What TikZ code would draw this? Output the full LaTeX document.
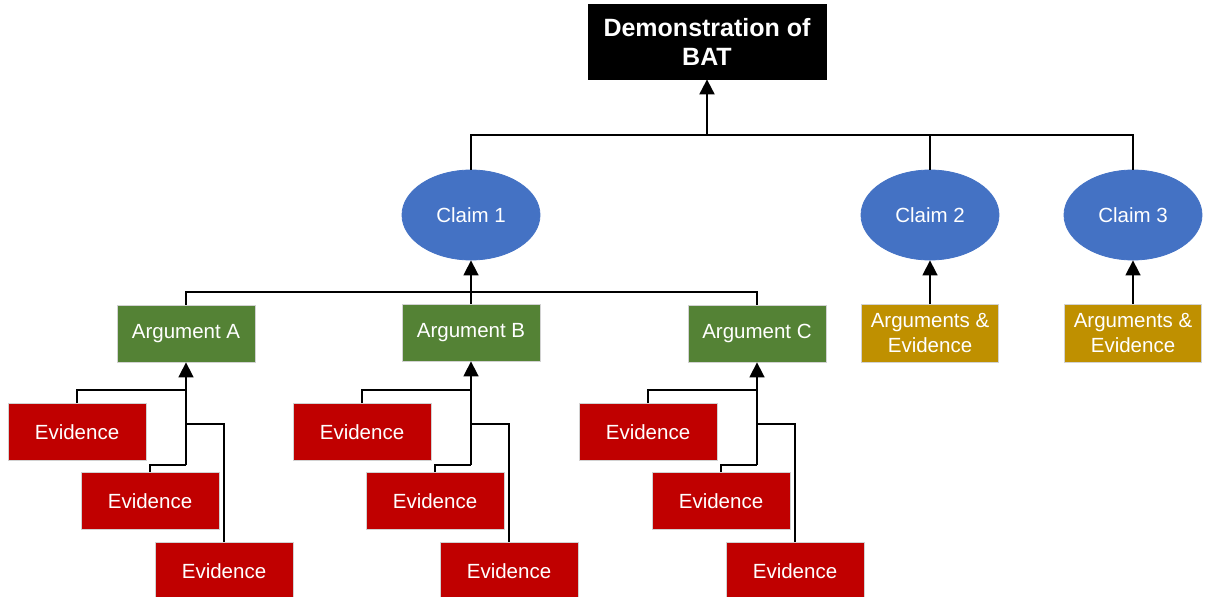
\documentclass[tikz,border=0pt]{standalone}
\usepackage{fontspec}
\setmainfont{Liberation Sans}
\usetikzlibrary{arrows.meta,shapes.geometric}
\definecolor{cblue}{HTML}{4472C4}
\definecolor{cgreen}{HTML}{548235}
\definecolor{cred}{HTML}{C00000}
\definecolor{cgold}{HTML}{BF9000}
\tikzset{
  base/.style={text=white, inner sep=0pt, align=center, draw=gray!35, line width=0.8pt,
    font=\fontsize{20.5}{24.5}\selectfont},
  titlebox/.style={base, fill=black, draw=black, minimum width=238pt, minimum height=75pt,
    font=\bfseries\fontsize{25}{29}\selectfont},
  claim/.style={base, ellipse, fill=cblue, draw=cblue, minimum width=138pt, minimum height=90pt},
  argbox/.style={base, fill=cgreen, minimum width=138pt, minimum height=57pt},
  evbox/.style={base, fill=cred, minimum width=138pt, minimum height=57pt},
  aebox/.style={base, fill=cgold, minimum width=137pt, minimum height=58pt},
  conn/.style={draw=black, line width=1.6pt},
  arr/.style={conn, -{Triangle[length=15pt,width=15pt]}},
}
\begin{document}
\begin{tikzpicture}[x=1pt,y=-1pt]
\useasboundingbox (0,0) rectangle (1205,597);
\clip (0,0) rectangle (1205,597);

\node[titlebox] (bat) at (707,41.5) {Demonstration of\\BAT};

\node[claim] (claim1) at (471,215) {Claim 1};
\node[claim] (claim2) at (930,215) {Claim 2};
\node[claim] (claim3) at (1133,215) {Claim 3};

\node[aebox] (ae2) at (930,333) {Arguments \&\\Evidence};
\node[aebox] (ae3) at (1133,333) {Arguments \&\\Evidence};

\node[argbox] (argA) at (186,333.5) {Argument A};
\node[argbox] (argB) at (471,332.5) {Argument B};
\node[argbox] (argC) at (757,333.5) {Argument C};

% top level
\coordinate (top) at (707,135);
\draw[conn] (claim1.north) -- (claim1.north |- top) -- (claim3.north |- top) -- (claim3.north);
\draw[conn] (claim2.north) -- (claim2.north |- top);
\draw[arr, line width=2pt] (top) -- (bat.south);

\draw[arr] (ae2.north) -- (claim2.south);
\draw[arr] (ae3.north) -- (claim3.south);

% claim 1 level
\coordinate (c1j) at (471,292);
\draw[conn] (argA.north) -- (argA.north |- c1j) -- (argC.north |- c1j) -- (argC.north);
\draw[arr] (argB.north) -- (claim1.south);

% evidence groups
\foreach \g/\ax/\ea/\eb/\ec in {A/186/77/150/224, B/471/362/435/509, C/757/648/721/795}{
  \node[evbox] (e\g1) at (\ea,432) {Evidence};
  \node[evbox] (e\g2) at (\eb,501) {Evidence};
  \node[evbox] (e\g3) at (\ec,571) {Evidence};
  \coordinate (j\g1) at (\ax,390);
  \coordinate (j\g2) at (\ax,465);
  \coordinate (j\g3) at (\ax,424);
  \draw[conn] (e\g1.north) -- (e\g1.north |- j\g1) -- (j\g1);
  \draw[conn] (e\g2.north) -- (e\g2.north |- j\g2) -- (j\g2);
  \draw[conn] (e\g3.north) -- (e\g3.north |- j\g3) -- (j\g3);
  \draw[arr] (j\g2) -- (arg\g.south);
}
\end{tikzpicture}
\end{document}
